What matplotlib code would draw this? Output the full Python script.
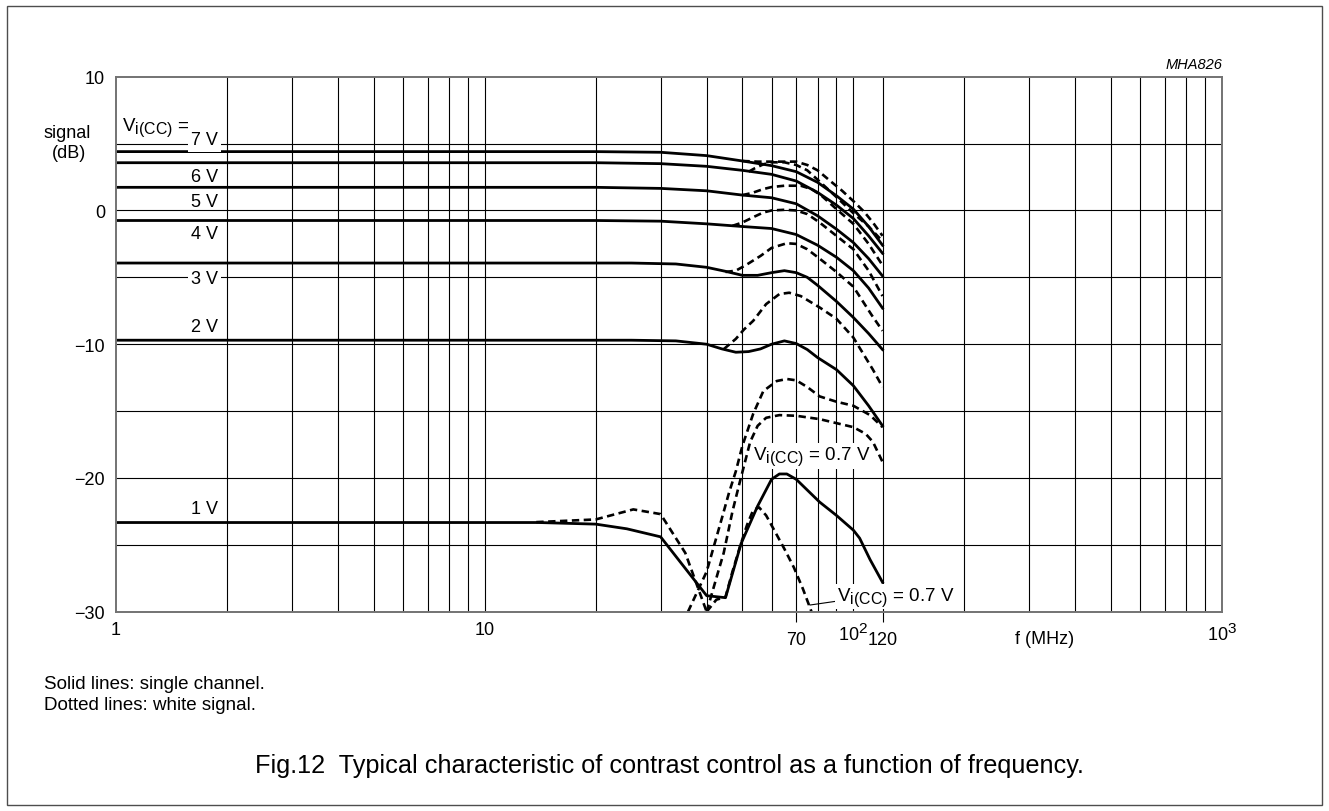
import matplotlib
matplotlib.use('Agg')
import matplotlib.pyplot as plt
import matplotlib._mathtext as mathtext_internal
from matplotlib.patches import Rectangle

plt.rcParams['font.family'] = ['Liberation Sans', 'DejaVu Sans']
plt.rcParams['mathtext.fontset'] = 'custom'
plt.rcParams['mathtext.rm'] = 'Liberation Sans'
plt.rcParams['mathtext.it'] = 'Liberation Sans:italic'
# subscripts in the original are only slightly smaller than the main text
mathtext_internal.SHRINK_FACTOR = 0.85

# frequency in MHz, signal in dB
# solid lines: single channel
f_7v = [1, 20, 30, 40, 50, 60, 70, 80, 90, 100, 110, 120]
db_7v = [4.4, 4.4, 4.35, 4.1, 3.7, 3.35, 2.9, 2.1, 1.1, 0.1, -1.2, -2.6]
f_6v = [1, 20, 30, 40, 50, 60, 70, 80, 90, 100, 110, 120]
db_6v = [3.57, 3.57, 3.5, 3.3, 3.0, 2.7, 2.2, 1.35, 0.4, -0.6, -1.9, -3.2]
f_5v = [1, 20, 30, 40, 50, 60, 70, 80, 90, 100, 110, 120]
db_5v = [1.73, 1.73, 1.65, 1.47, 1.15, 0.95, 0.5, -0.4, -1.4, -2.4, -3.6, -4.9]
f_4v = [1, 20, 30, 40, 50, 60, 70, 80, 90, 100, 110, 120]
db_4v = [-0.75, -0.75, -0.8, -1.0, -1.2, -1.35, -1.8, -2.6, -3.5, -4.5, -5.8, -7.3]
f_3v = [1, 25, 33, 40, 45, 50, 55, 60, 65, 70, 75, 80, 90, 100, 110, 120]
db_3v = [-3.93, -3.93, -4.0, -4.25, -4.55, -4.85, -4.85, -4.65, -4.5, -4.65,
         -5.0, -5.6, -6.8, -8.0, -9.2, -10.4]
f_2v = [1, 25, 33, 40, 44, 48, 52, 56, 60, 65, 70, 75, 80, 90, 100, 110, 120]
db_2v = [-9.7, -9.7, -9.75, -10.0, -10.35, -10.6, -10.55, -10.35, -10.0, -9.75,
         -9.95, -10.4, -11.0, -11.9, -13.1, -14.6, -16.1]
f_1v = [1, 14, 20, 24.3, 30, 40, 45, 49.6, 55, 60, 63, 66, 70, 81, 90, 100,
        104, 111, 120]
db_1v = [-23.33, -23.33, -23.45, -23.8, -24.4, -28.8, -28.95, -24.9, -22.1,
         -20.1, -19.7, -19.7, -20.1, -21.8, -22.8, -23.9, -24.5, -26.1, -27.8]

# dotted lines: white signal
fw_7v = [50, 55, 60, 70, 75, 80, 86.6, 93, 100, 107, 113, 120]
dbw_7v = [3.7, 3.65, 3.65, 3.65, 3.4, 3.0, 2.2, 1.5, 0.7, -0.1, -0.9, -1.9]
fw_6v = [52, 54, 57, 60, 65, 70, 75, 80, 90, 100, 110, 120]
dbw_6v = [2.9, 3.15, 3.45, 3.6, 3.6, 3.4, 3.0, 2.3, 1.0, -0.2, -1.2, -2.3]
fw_5v = [50, 53, 57, 60, 65, 72, 77, 82, 90, 100, 110, 120]
dbw_5v = [1.15, 1.3, 1.6, 1.75, 1.85, 1.85, 1.6, 1.1, 0.1, -1.0, -2.5, -4.1]
fw_4v = [47, 50, 54, 57, 60, 65, 70, 75, 81, 90, 100, 110, 120]
dbw_4v = [-1.15, -0.9, -0.45, -0.15, 0.0, 0.05, 0.0, -0.27, -0.9, -1.9, -2.9,
          -4.5, -6.4]
fw_3v = [45, 48, 51, 56, 60, 66, 70, 75, 81, 90, 100, 105, 112, 120]
dbw_3v = [-4.6, -4.5, -4.1, -3.4, -2.8, -2.45, -2.5, -2.9, -3.6, -4.6, -5.7,
          -6.6, -7.8, -9.0]
fw_2v = [44.5, 48, 50.5, 53.5, 58, 63, 67, 72, 81, 90, 100, 113, 120]
dbw_2v = [-10.37, -9.6, -8.9, -8.25, -7.0, -6.25, -6.15, -6.4, -7.25, -8.1,
          -9.5, -11.9, -13.2]
fw_a = [35.6, 40, 44, 46, 48, 50, 53.5, 57, 62, 66, 70, 75, 81, 90, 100, 111, 120]
dbw_a = [-30, -27.0, -23.0, -21.1, -19.5, -17.6, -15.2, -13.5, -12.75, -12.6,
         -12.7, -13.2, -13.9, -14.3, -14.6, -15.3, -16.2]
fw_b = [40, 43, 44.5, 47, 49, 52.5, 55, 58, 63, 70, 81, 90, 100, 108, 113, 120]
dbw_b = [-30, -27.0, -25.6, -22.5, -20.5, -17.3, -16.1, -15.5, -15.3, -15.35,
         -15.6, -15.9, -16.2, -16.7, -17.3, -18.8]
fw_07 = [40, 42.5, 45, 47, 49.3, 51.5, 53.5, 55.5, 58, 61, 65, 69, 73, 77]
dbw_07 = [-30, -29.1, -28.9, -27.0, -25.1, -23.5, -22.4, -22.2, -22.8, -23.9,
          -25.3, -26.7, -28.3, -30]
fw_1v = [13.8, 20, 25.3, 30, 35, 40]
dbw_1v = [-23.3, -23.1, -22.35, -22.7, -25.6, -30]

grid_f = [2, 3, 4, 5, 6, 7, 8, 9, 10, 20, 30, 40, 50, 60, 70, 80, 90, 100, 120,
          200, 300, 400, 500, 600, 700, 800, 900]
grid_db = [-25, -20, -15, -10, -5, 0, 5]

fig = plt.figure(figsize=(13.29, 8.12), dpi=100)
ax = fig.add_axes([0.0873, 0.2454, 0.8322, 0.6589])
ax.set_xscale('log')
ax.set_xlim(1, 1000)
ax.set_ylim(-30, 10)

for f in grid_f:
    ax.axvline(f, color='k', lw=0.8, zorder=1)
for d in grid_db:
    ax.axhline(d, color='k', lw=0.8, zorder=1)
for s in ax.spines.values():
    s.set_color('0.45')
    s.set_linewidth(1.4)

solid = [(f_7v, db_7v), (f_6v, db_6v), (f_5v, db_5v), (f_4v, db_4v),
         (f_3v, db_3v), (f_2v, db_2v), (f_1v, db_1v)]
dotted = [(fw_7v, dbw_7v), (fw_6v, dbw_6v), (fw_5v, dbw_5v), (fw_4v, dbw_4v),
          (fw_3v, dbw_3v), (fw_2v, dbw_2v), (fw_a, dbw_a), (fw_b, dbw_b),
          (fw_07, dbw_07), (fw_1v, dbw_1v)]
for x, y in solid:
    ax.plot(x, y, color='k', lw=2.0, zorder=2)
for x, y in dotted:
    ax.plot(x, y, color='k', lw=1.9, dashes=(2.8, 1.7), zorder=2)

fs = 13
box = dict(facecolor='white', edgecolor='none', pad=2.5)
ax.text(1.038, 6.0, 'V$_{\\mathrm{i(CC)}}$ =', fontsize=13.5, ha='left', va='baseline')
ax.text(1.89, 5.3, '7 V', fontsize=fs, ha='right', va='center', bbox=box, zorder=3)
ax.text(1.89, 2.57, '6 V', fontsize=fs, ha='right', va='center')
ax.text(1.89, 0.65, '5 V', fontsize=fs, ha='right', va='center')
ax.text(1.89, -1.7, '4 V', fontsize=fs, ha='right', va='center')
ax.text(1.89, -5.06, '3 V', fontsize=fs, ha='right', va='center', bbox=box, zorder=3)
ax.text(1.89, -8.65, '2 V', fontsize=fs, ha='right', va='center')
ax.text(1.89, -22.26, '1 V', fontsize=fs, ha='right', va='center')

box2 = dict(facecolor='white', edgecolor='none', pad=1.0)
ax.text(53.4, -18.6, 'V$_{\\mathrm{i(CC)}}$ = 0.7 V', fontsize=13.5, ha='left',
        va='baseline', bbox=box2, zorder=3)
ax.annotate('V$_{\\mathrm{i(CC)}}$ = 0.7 V', xy=(76.2, -29.5), xytext=(90.1, -29.12),
            fontsize=13.5, ha='left', va='baseline', bbox=box2, zorder=3,
            arrowprops=dict(arrowstyle='-', lw=0.8, color='k', shrinkA=0, shrinkB=0,
                            relpos=(0.0, 0.3)))

ax.set_xticks([1, 10, 100, 1000])
ax.set_xticklabels(['1', '10', '$10^2$', '$10^3$'])
ax.set_xticks([70, 120], minor=True)
ax.set_xticklabels(['70', '120'], minor=True)
ax.tick_params(axis='x', which='major', length=0, pad=7.0, labelsize=fs)
ax.tick_params(axis='x', which='minor', length=7.2, width=0.8, direction='out',
               pad=6.8, labelsize=fs, color='k')
ax.set_yticks([-30, -20, -10, 0, 10])
ax.set_yticklabels(['\u221230', '\u221220', '\u221210', '0', '10'])
ax.set_yticks([], minor=True)
ax.tick_params(axis='y', length=0, pad=8, labelsize=fs)

W, H = 1329.0, 812.0
fig.text(67 / W, 1 - 134 / H, 'signal', fontsize=fs, ha='center', va='center')
fig.text(69 / W, 1 - 153 / H, '(dB)', fontsize=fs, ha='center', va='center')
fig.text(1045 / W, 1 - 640 / H, 'f (MHz)', fontsize=fs, ha='center', va='center')
fig.text(1222 / W, 1 - 65 / H, 'MHA826', fontsize=10.5, style='italic',
         ha='right', va='center')
fig.text(44 / W, 1 - 685 / H, 'Solid lines: single channel.', fontsize=13.5,
         ha='left', va='center')
fig.text(44 / W, 1 - 706 / H, 'Dotted lines: white signal.', fontsize=13.5,
         ha='left', va='center')
fig.text(669 / W, 1 - 766 / H,
         'Fig.12  Typical characteristic of contrast control as a function of frequency.',
         fontsize=18.2, ha='center', va='center')

fig.patches.append(Rectangle((7 / W, 6 / H), (1322 - 7) / W, (806 - 7) / H,
                             transform=fig.transFigure, fill=False,
                             edgecolor='0.3', lw=1.0))

fig.savefig('out.png', dpi=100)
